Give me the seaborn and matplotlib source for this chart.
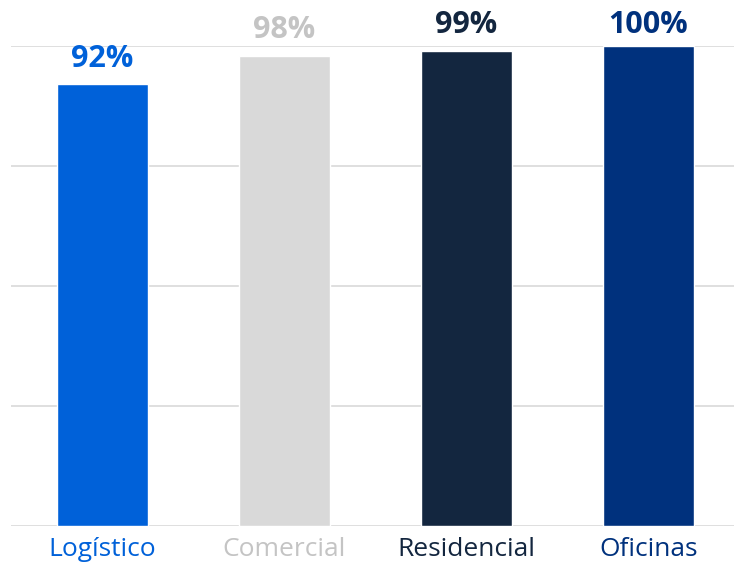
import numpy as np
import pandas as pd
import seaborn as sns
import matplotlib.pyplot as plt

# ── datos ──────────────────────────────────────────────────────────────
categorias = ["Logístico", "Comercial", "Residencial", "Oficinas"]
ocupacion = [92, 98, 99, 100]
colores_barra = ["#0061D9", "#D9D9D9", "#13263F", "#00317D"]
colores_texto = ["#0061D9", "#C4C4C4", "#13263F", "#00317D"]

df = pd.DataFrame({"cat": categorias, "val": ocupacion})

sns.set_theme(style="white")
plt.rcParams["font.family"] = ["Open Sans", "DejaVu Sans"]

fig = plt.figure(figsize=(7.34, 5.62), dpi=100)
ax = fig.add_axes([11 / 734, 36 / 562, 723 / 734, 480 / 562])

sns.barplot(data=df, x="cat", y="val", hue="cat", palette=colores_barra,
            width=0.5, legend=False, saturation=1, ax=ax)

ax.set_ylim(0, 100)
ax.set_xlim(-0.5, 3.47)
ax.set_yticks([0, 25, 50, 75, 100])
ax.yaxis.grid(True, color="#D9D9D9", linewidth=1.2)
ax.set_axisbelow(True)
for s in ax.spines.values():
    s.set_visible(False)
ax.set_yticklabels([])
ax.tick_params(axis="y", length=0)
ax.set_xlabel("")
ax.set_ylabel("")

# etiquetas de categoría
ax.set_xticks(range(len(categorias)))
ax.set_xticklabels(categorias, fontsize=19)
for lbl, c in zip(ax.get_xticklabels(), colores_texto):
    lbl.set_color(c)
ax.tick_params(axis="x", length=0, pad=8)

# etiquetas de valor (la de 100% queda topada arriba)
for i, (v, c) in enumerate(zip(ocupacion, colores_texto)):
    y = min(v + 2.2, 101.2)
    ax.text(i, y, f"{v}%", ha="center", va="bottom", fontsize=22,
            fontweight="bold", color=c, clip_on=False)

fig.savefig("out.png", dpi=100)
